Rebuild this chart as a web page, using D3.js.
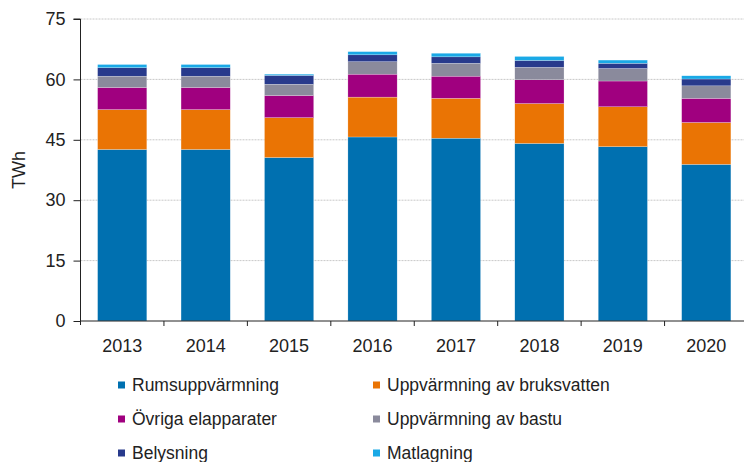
<!DOCTYPE html>
<html>
<head>
<meta charset="utf-8">
<script src="https://cdn.jsdelivr.net/npm/d3@7"></script>
<style>
  body { margin: 0; background: #fff; }
  svg text { font-family: "Liberation Sans", Arial, sans-serif; fill: #222; }
</style>
</head>
<body>
<div id="chart"></div>
<script>
const years = ["2013", "2014", "2015", "2016", "2017", "2018", "2019", "2020"];
const seriesNames = [
  "Rumsuppvärmning",
  "Uppvärmning av bruksvatten",
  "Övriga elapparater",
  "Uppvärmning av bastu",
  "Belysning",
  "Matlagning",
];
const seriesColors = ["#0070b0", "#ea7404", "#a0007f", "#8a8a9c", "#283a8c", "#1aa9e6"];

const rumsuppvarmning = [42.6, 42.6, 40.6, 45.7, 45.4, 44.1, 43.3, 38.9];
const bruksvatten = [9.9, 9.9, 9.9, 9.9, 9.9, 9.9, 9.9, 10.4];
const elapparater = [5.5, 5.5, 5.5, 5.7, 5.5, 5.9, 6.4, 6.0];
const bastu = [2.8, 2.8, 2.8, 3.1, 3.2, 3.1, 3.1, 3.1];
const belysning = [2.1, 2.1, 2.2, 1.7, 1.6, 1.7, 1.3, 1.7];
const matlagning = [0.8, 0.8, 0.3, 0.8, 0.9, 1.0, 0.8, 0.8];
const yTicks = [0, 15, 30, 45, 60, 75];

const width = 744;
const height = 462;
const margin = { top: 19, left: 80.5, bottom: 141 };
const plotRight = 748;

const svg = d3
  .select("#chart")
  .append("svg")
  .attr("width", width)
  .attr("height", height);

// one row per year, one column per series, for d3.stack
const allSeries = [rumsuppvarmning, bruksvatten, elapparater, bastu, belysning, matlagning];
const table = years.map((year, i) => {
  let row = { year: year };
  seriesNames.forEach((name, s) => (row[name] = allSeries[s][i]));
  return row;
});
const stacked = d3.stack().keys(seriesNames)(table);

const x = d3
  .scaleBand()
  .domain(years)
  .range([margin.left, plotRight])
  .paddingInner(0.41)
  .paddingOuter(0.205);

const y = d3
  .scaleLinear()
  .domain([0, 75])
  .range([height - margin.bottom, margin.top]);

// dotted gridlines
svg
  .append("g")
  .selectAll("line")
  .data(yTicks.filter((t) => t > 0))
  .join("line")
  .attr("x1", margin.left)
  .attr("x2", plotRight)
  .attr("y1", (d) => y(d))
  .attr("y2", (d) => y(d))
  .attr("stroke", "#c8c8c8")
  .attr("stroke-width", 1)
  .attr("stroke-dasharray", "2,1");

// bars
svg
  .append("g")
  .selectAll("g")
  .data(stacked)
  .join("g")
  .attr("fill", (d, i) => seriesColors[i])
  .selectAll("rect")
  .data((d) => d)
  .join("rect")
  .attr("x", (d) => x(d.data.year))
  .attr("width", x.bandwidth())
  .attr("y", (d) => y(d[1]))
  .attr("height", (d) => y(d[0]) - y(d[1]))
  .attr("stroke", "#ffffff")
  .attr("stroke-width", 0.4)
  .attr("stroke-opacity", 0.6);

// y axis
let yAxis = svg
  .append("g")
  .attr("transform", `translate(${margin.left},0)`)
  .call(d3.axisLeft(y).tickValues(yTicks).tickSize(7).tickPadding(8));
yAxis.select(".domain").attr("stroke", "#222").attr("d", `M-7,${y(75)}H0V${y(0) + 4}`);
yAxis.selectAll(".tick line").attr("stroke", "#222");
yAxis.selectAll("text").style("font-size", "18px").attr("fill", "#222");

// x axis, Excel style: ticks at category borders
let xAxis = svg.append("g").attr("transform", `translate(0,${y(0)})`);
xAxis
  .append("line")
  .attr("x1", margin.left)
  .attr("x2", plotRight)
  .attr("stroke", "#222");
xAxis
  .selectAll(".border")
  .data(years.slice(1))
  .join("line")
  .classed("border", true)
  .attr("x1", (d) => x(d) - (x.step() - x.bandwidth()) / 2)
  .attr("x2", (d) => x(d) - (x.step() - x.bandwidth()) / 2)
  .attr("y1", 0)
  .attr("y2", 5)
  .attr("stroke", "#222");
xAxis
  .selectAll("text")
  .data(years)
  .join("text")
  .attr("x", (d) => x(d) + x.bandwidth() / 2)
  .attr("y", 30.5)
  .attr("text-anchor", "middle")
  .style("font-size", "18px")
  .text((d) => d);

// y axis title
svg
  .append("text")
  .attr("transform", `translate(25,${(y(0) + y(75)) / 2}) rotate(-90)`)
  .attr("text-anchor", "middle")
  .style("font-size", "18px")
  .text("TWh");

// legend, two columns
let legend = svg
  .append("g")
  .selectAll("g")
  .data(seriesNames)
  .join("g")
  .attr("transform", (d, i) => `translate(${i % 2 === 0 ? 118 : 373},${385 + Math.floor(i / 2) * 34})`);

legend
  .append("rect")
  .attr("x", 0)
  .attr("y", -3.5)
  .attr("width", 7)
  .attr("height", 7)
  .attr("fill", (d, i) => seriesColors[i]);

legend
  .append("text")
  .attr("x", 14)
  .attr("dy", "0.35em")
  .style("font-size", "17.5px")
  .text((d) => d);
</script>
</body>
</html>
